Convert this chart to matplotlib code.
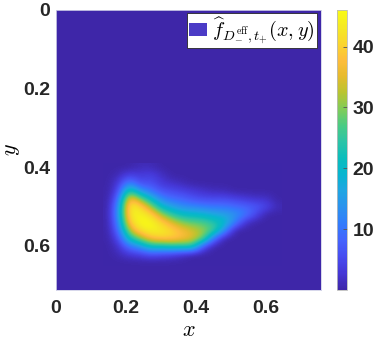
import numpy as np
import matplotlib
matplotlib.use('Agg')
import matplotlib.pyplot as plt
from matplotlib.colors import LinearSegmentedColormap
from matplotlib.patches import Patch

plt.rcParams['font.family'] = 'Liberation Sans'
plt.rcParams['mathtext.fontset'] = 'cm'

# density estimate (rows: y, columns: x)
x_grid = [0.15, 0.18, 0.21, 0.24, 0.27, 0.30, 0.33, 0.36, 0.39,
          0.42, 0.45, 0.48, 0.51, 0.54, 0.57, 0.60, 0.63]
y_grid = [0.40, 0.42, 0.44, 0.46, 0.48, 0.50, 0.52,
          0.54, 0.56, 0.58, 0.60, 0.62, 0.64]
# each list below is one x column, top (y=0.40) to bottom (y=0.64)
density_cols = [
    [0, 0, 0, 0, 0, 0, 0, 0, 0, 0, 0, 0, 0],
    [0, 1, 3, 5, 9, 13, 14, 12, 9, 5, 2, 1, 0],
    [0, 4, 12, 26, 40, 45, 44, 40, 32, 22, 10, 3, 0],
    [1, 3, 5, 14, 30, 42, 45, 46, 42, 30, 14, 4, 0],
    [1, 4, 6, 10, 20, 32, 42, 46, 45, 38, 22, 6, 0],
    [0, 2, 3, 6, 12, 20, 32, 41, 44, 40, 22, 5, 0],
    [0, 0, 2, 5, 9, 16, 25, 35, 41, 40, 24, 4, 0],
    [0, 0, 1, 4, 8, 13, 21, 30, 37, 38, 24, 2, 0],
    [0, 0, 0, 3, 6, 12, 20, 28, 34, 35, 25, 0, 0],
    [0, 0, 0, 2, 5, 11, 19, 27, 31, 30, 6, 0, 0],
    [0, 0, 0, 1, 5, 10, 17, 24, 27, 10, 0, 0, 0],
    [0, 0, 0, 1, 5, 10, 16, 21, 14, 0, 0, 0, 0],
    [0, 0, 0, 0, 4, 9, 14, 12, 0, 0, 0, 0, 0],
    [0, 0, 0, 0, 3, 8, 11, 2, 0, 0, 0, 0, 0],
    [0, 0, 0, 0, 2, 7, 5, 0, 0, 0, 0, 0, 0],
    [0, 0, 0, 0, 2, 5, 0, 0, 0, 0, 0, 0, 0],
    [0, 0, 0, 0, 0, 1, 0, 0, 0, 0, 0, 0, 0],
]
ticks = [0, 0.2, 0.4, 0.6]
tick_labels = ['0', '0.2', '0.4', '0.6']
cbar_ticks = [10, 20, 30, 40]
vmin, vmax = 0, 46

# parula-like colormap
parula = LinearSegmentedColormap.from_list('parula', [
    (0.2422, 0.1504, 0.6603), (0.2706, 0.2147, 0.8364), (0.2813, 0.3006, 0.9414),
    (0.2699, 0.3892, 0.9906), (0.1963, 0.4847, 0.9892), (0.1687, 0.5703, 0.9359),
    (0.1248, 0.6459, 0.8883), (0.0297, 0.7082, 0.8163), (0.0433, 0.7411, 0.7394),
    (0.1717, 0.7670, 0.6554), (0.2906, 0.7973, 0.5188), (0.5044, 0.7993, 0.3480),
    (0.7242, 0.7698, 0.1910), (0.9035, 0.7330, 0.1774), (0.9956, 0.7434, 0.2371),
    (0.9786, 0.8386, 0.1766), (0.9597, 0.9135, 0.1423), (0.9769, 0.9839, 0.0805)])

Z = np.array(density_cols).T
dx = x_grid[1] - x_grid[0]
dy = y_grid[1] - y_grid[0]

fig = plt.figure(figsize=(3.74, 3.44), dpi=100)
ax = fig.add_axes([56/374, 54/344, 265/374, 280/344])
ax.set_facecolor(parula(0.0))
im = ax.imshow(Z, cmap=parula, vmin=vmin, vmax=vmax, origin='lower',
               interpolation='bicubic', aspect='auto',
               extent=(x_grid[0] - dx/2, x_grid[-1] + dx/2,
                       y_grid[0] - dy/2, y_grid[-1] + dy/2))
ax.set_xlim(0, 0.757)
ax.set_ylim(0.712, 0)
ax.set_xticks(ticks, tick_labels)
ax.set_yticks(ticks, tick_labels)
ax.tick_params(length=0, labelsize=14, colors='#262626')
ax.tick_params(axis='x', pad=7)
ax.tick_params(axis='y', pad=4)
for lab in ax.get_xticklabels() + ax.get_yticklabels():
    lab.set_fontweight('bold')
for s in ax.spines.values():
    s.set_color('#d0d0e8')
    s.set_linewidth(0.6)
ax.set_xlabel('$x$', fontsize=16, labelpad=2)
ax.set_ylabel('$y$', fontsize=16, labelpad=1)

leg = ax.legend([Patch(facecolor='#4B3BC6', edgecolor='none')],
                [r'$\widehat{f}_{D^{\rm eff}_{-},t_{+}}(x,y)$'],
                loc='upper right', bbox_to_anchor=(0.985, 0.99), borderaxespad=0,
                fontsize=14.5, fancybox=False, framealpha=1, edgecolor='#262626',
                handlelength=0.9, handleheight=0.6, handletextpad=0.25, borderpad=0.1)
leg.get_frame().set_linewidth(0.6)

cax = fig.add_axes([337/374, 54/344, 10/374, 280/344])
cb = fig.colorbar(im, cax=cax, ticks=cbar_ticks)
cb.outline.set_edgecolor('#bbbbbb')
cb.outline.set_linewidth(0.6)
cax.tick_params(direction='in', length=3, width=0.6, color='#555555',
                labelsize=14, pad=4, colors='#262626')
for lab in cax.get_yticklabels():
    lab.set_fontweight('bold')

fig.savefig('out.png', dpi=100)
